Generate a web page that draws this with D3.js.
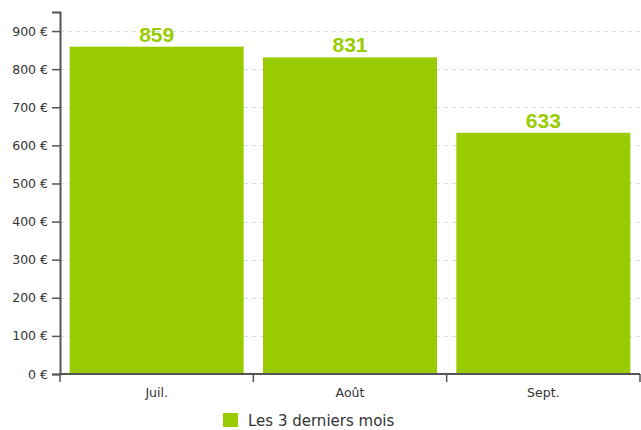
<!DOCTYPE html>
<meta charset="utf-8">
<script src="https://d3js.org/d3.v7.min.js"></script>
<style>
  body { margin: 0; background: #fff; }
  text { font-family: "DejaVu Sans", Verdana, sans-serif; }
</style>
<body>
<div id="chart"></div>
<script>
  // data
  const months = ["Juil.", "Août", "Sept."];
  const amounts = [859, 831, 633];
  const yTicks = [0, 100, 200, 300, 400, 500, 600, 700, 800, 900];
  const seriesName = "Les 3 derniers mois";

  const W = 641, H = 430;
  const mLeft = 60, mRight = 640, mTop = 12, mBottom = 374;
  const green = "#99cc00";

  const svg = d3.select("#chart").append("svg")
    .attr("width", W).attr("height", H);

  const x = d3.scaleBand()
    .domain(months)
    .range([mLeft, mRight])
    .paddingInner(0.1)
    .paddingOuter(0.05);

  const y = d3.scaleLinear()
    .domain([0, 950])
    .range([mBottom, mTop]);

  // dashed grid
  svg.append("g")
    .selectAll("line")
    .data(yTicks.filter(d => d > 0))
    .join("line")
      .attr("x1", mLeft).attr("x2", mRight)
      .attr("y1", d => Math.round(y(d)) + 0.5)
      .attr("y2", d => Math.round(y(d)) + 0.5)
      .attr("stroke", "#dcdcdc")
      .attr("stroke-dasharray", "4,4");

  // bars
  svg.append("g")
    .selectAll("rect")
    .data(amounts)
    .join("rect")
      .attr("x", (d, i) => x(months[i]))
      .attr("width", x.bandwidth())
      .attr("y", d => y(d))
      .attr("height", d => mBottom - y(d))
      .attr("fill", green);

  // value labels
  svg.append("g")
    .selectAll("text")
    .data(amounts)
    .join("text")
      .attr("x", (d, i) => x(months[i]) + x.bandwidth() / 2)
      .attr("y", d => y(d) - 5)
      .attr("text-anchor", "middle")
      .style("font-family", "Arial, 'Liberation Sans', sans-serif")
      .style("font-size", "21px")
      .style("font-weight", "bold")
      .attr("fill", green)
      .text(d => d);

  // y axis
  const yAxis = svg.append("g")
    .attr("transform", `translate(${mLeft},0)`)
    .call(d3.axisLeft(y).tickValues(yTicks).tickSize(8).tickSizeOuter(8)
      .tickPadding(4).tickFormat(d => d + " €"));
  yAxis.select(".domain").attr("stroke", "#555").attr("stroke-width", 2);
  yAxis.selectAll(".tick line").attr("stroke", "#555").attr("stroke-width", 1.5);
  yAxis.selectAll(".tick text")
    .style("font-size", "12.5px")
    .style("font-family", "'DejaVu Sans', Verdana, sans-serif")
    .attr("fill", "#333");

  // x axis
  const xg = svg.append("g");
  xg.append("line")
    .attr("x1", mLeft - 1).attr("x2", mRight)
    .attr("y1", mBottom).attr("y2", mBottom)
    .attr("stroke", "#555").attr("stroke-width", 2);
  xg.selectAll(".xtick")
    .data(d3.range(months.length + 1))
    .join("line")
      .attr("x1", i => mLeft + i * x.step())
      .attr("x2", i => mLeft + i * x.step())
      .attr("y1", mBottom).attr("y2", mBottom + 8)
      .attr("stroke", "#555").attr("stroke-width", 1.5);
  xg.selectAll("text")
    .data(months)
    .join("text")
      .attr("x", d => x(d) + x.bandwidth() / 2)
      .attr("y", mBottom + 23)
      .attr("text-anchor", "middle")
      .style("font-size", "12.5px")
      .attr("fill", "#333")
      .text(d => d);

  // legend
  const lg = svg.append("g").attr("transform", "translate(223,413)");
  lg.append("rect").attr("width", 15).attr("height", 14).attr("fill", green);
  lg.append("text")
    .attr("x", 25).attr("y", 13)
    .style("font-size", "15px")
    .attr("fill", "#333")
    .text(seriesName);
</script>
</body>
